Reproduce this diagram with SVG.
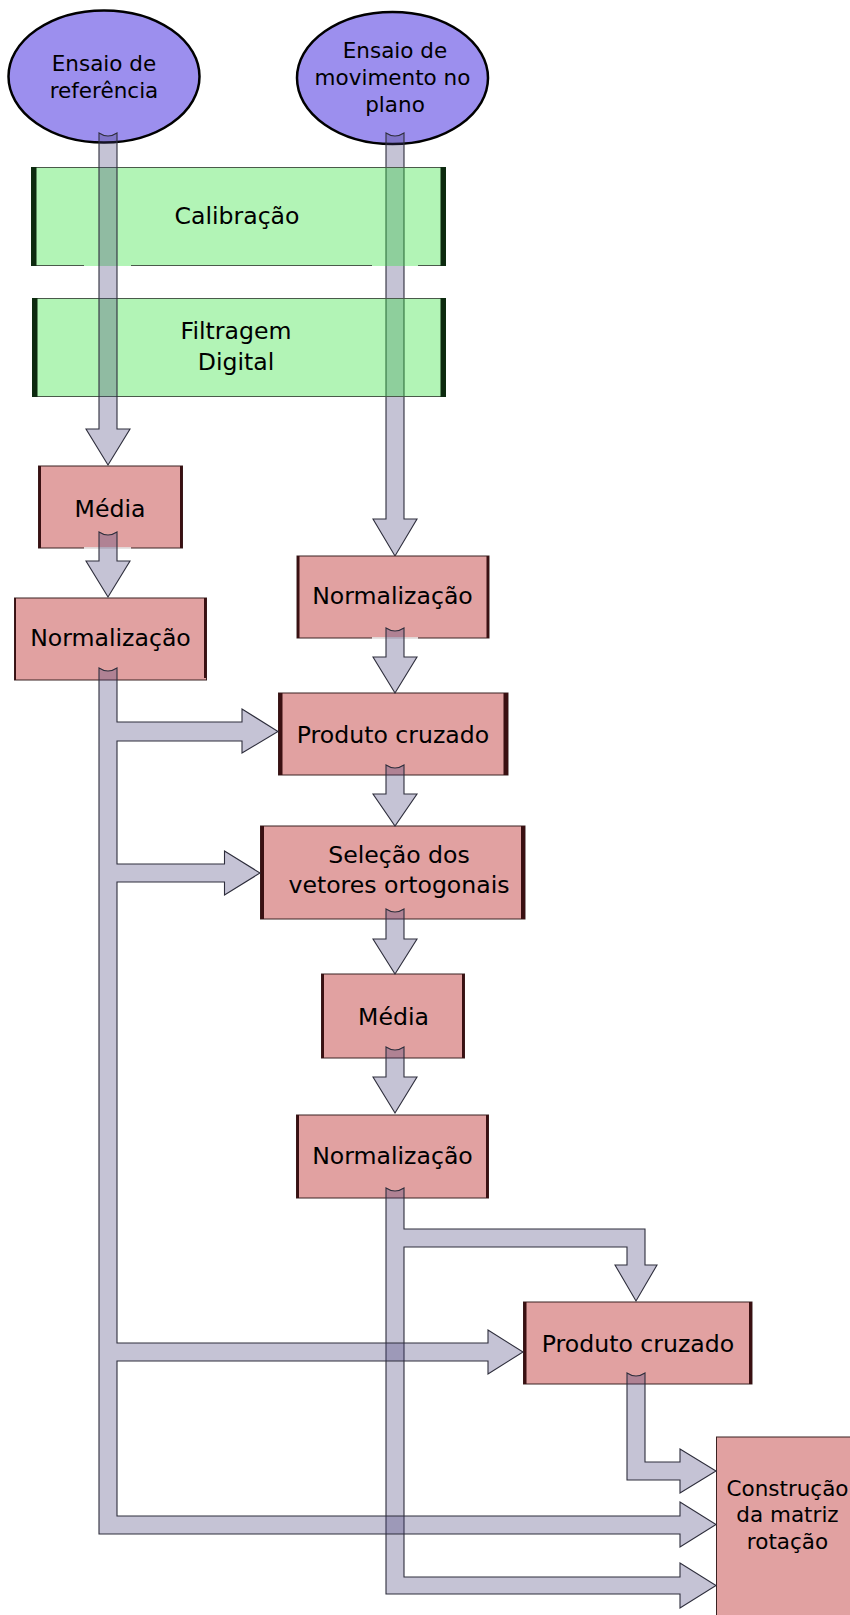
<svg xmlns="http://www.w3.org/2000/svg" width="850" height="1615" viewBox="0 0 850 1615">
<style>
.ell{fill:#9c8fee;stroke:#000;stroke-width:2.5}
.grn{fill:rgb(52,226,63);fill-opacity:0.38;stroke:none}
.gl{stroke:#4a5a4a;stroke-width:1;fill:none}
.gedge{fill:#0d2a0f}
.box{fill:#e1a1a1;stroke:#3a2222;stroke-width:1}
.bedge{fill:#3a1012}
.gap{stroke:#fff;stroke-width:1.6}
.arr{fill:rgb(68,61,120);fill-opacity:0.31;stroke:#2e2e3c;stroke-width:1.1;stroke-linejoin:miter}
text{font-family:"DejaVu Sans","Liberation Sans",sans-serif;fill:#000;text-anchor:middle}
.t{font-size:23.6px}
.s{font-size:21.5px}
</style>
<rect width="850" height="1615" fill="#fff"/>
<g id="ensaio-referencia">
<ellipse class="ell" cx="104" cy="76.5" rx="95.5" ry="66"/>
<text class="s" x="104" y="70.5">Ensaio de</text>
<text class="s" x="104" y="97.5">referência</text>
</g>
<g id="ensaio-movimento">
<ellipse class="ell" cx="392.5" cy="78" rx="95.5" ry="66"/>
<text class="s" x="395" y="58">Ensaio de</text>
<text class="s" x="392.5" y="84.8">movimento no</text>
<text class="s" x="395" y="111.5">plano</text>
</g>
<g id="connector-movimento">
<path class="arr" d="M386,133 Q395,139 404,133 L404,519 L417,519 L395,556 L373,519 L386,519 Z"/>
</g>
<g id="calibracao">
<rect class="grn" x="31" y="167" width="415" height="99"/>
<path class="gl" d="M31,167.5 H446 M31,265.5 H84 M131,265.5 H372 M418,265.5 H446"/>
<rect class="gedge" x="31" y="167" width="5.5" height="99"/>
<rect class="gedge" x="440.5" y="167" width="5.5" height="99"/>
<text class="t" x="237" y="223.5">Calibração</text>
</g>
<g id="filtragem">
<rect class="grn" x="32" y="298" width="414" height="99"/>
<path class="gl" d="M32,298.5 H446 M32,396.5 H446"/>
<rect class="gedge" x="32" y="298" width="5.5" height="99"/>
<rect class="gedge" x="440.5" y="298" width="5.5" height="99"/>
<text class="t" x="236" y="339">Filtragem</text>
<text class="t" x="236" y="369.5">Digital</text>
</g>
<g id="media-1">
<rect class="box" x="38.5" y="466" width="144" height="82"/>
<rect class="bedge" x="38.5" y="466" width="2.5" height="82"/>
<rect class="bedge" x="180" y="466" width="2.5" height="82"/>
<line class="gap" x1="84" y1="548" x2="131" y2="548"/>
<text class="t" x="110" y="517">Média</text>
</g>
<g id="normalizacao-1">
<rect class="box" x="14.5" y="598" width="192" height="82"/>
<rect class="bedge" x="14.5" y="598" width="1.5" height="82"/>
<rect class="bedge" x="204" y="598" width="2.5" height="80"/>
<text class="t" x="110.5" y="646">Normalização</text>
</g>
<g id="normalizacao-2">
<rect class="box" x="297" y="556" width="192" height="82"/>
<rect class="bedge" x="297" y="556" width="2.5" height="82"/>
<rect class="bedge" x="486.5" y="556" width="2.5" height="82"/>
<line class="gap" x1="372" y1="638" x2="418" y2="638"/>
<text class="t" x="392.5" y="604">Normalização</text>
</g>
<g id="produto-cruzado-1">
<rect class="box" x="278.5" y="693" width="229.5" height="82"/>
<rect class="bedge" x="278.5" y="693" width="4" height="82"/>
<rect class="bedge" x="503.5" y="693" width="4.5" height="82"/>
<text class="t" x="393" y="743">Produto cruzado</text>
</g>
<g id="selecao">
<rect class="box" x="260.5" y="826" width="264.5" height="93"/>
<rect class="bedge" x="260.5" y="826" width="3.5" height="93"/>
<rect class="bedge" x="521" y="826" width="4" height="93"/>
<text class="t" x="399" y="863">Seleção dos</text>
<text class="t" x="399" y="893">vetores ortogonais</text>
</g>
<g id="media-2">
<rect class="box" x="321.5" y="974" width="143" height="84"/>
<rect class="bedge" x="321.5" y="974" width="2.5" height="84"/>
<rect class="bedge" x="462" y="974" width="2.5" height="84"/>
<text class="t" x="393.5" y="1025">Média</text>
</g>
<g id="normalizacao-3">
<rect class="box" x="296.5" y="1115" width="192" height="83"/>
<rect class="bedge" x="296.5" y="1115" width="2.5" height="83"/>
<rect class="bedge" x="486" y="1115" width="2.5" height="83"/>
<text class="t" x="392.5" y="1164">Normalização</text>
</g>
<g id="produto-cruzado-2">
<rect class="box" x="523.5" y="1302" width="228.5" height="82"/>
<rect class="bedge" x="523.5" y="1302" width="3" height="82"/>
<rect class="bedge" x="749" y="1302" width="3" height="82"/>
<text class="t" x="638" y="1352">Produto cruzado</text>
</g>
<g id="construcao">
<rect class="box" x="716.5" y="1437" width="140" height="190" stroke-width="2"/>
<text class="s" x="787.5" y="1496">Construção</text>
<text class="s" x="787.5" y="1522">da matriz</text>
<text class="s" x="787.5" y="1549">rotação</text>
</g>
<g id="connectors">
<path class="arr" d="M99,133 Q108,139 117,133 L117,429 L130,429 L108,465 L86,429 L99,429 Z"/>
<path class="arr" d="M99,532 Q108,538 117,532 L117,561 L130,561 L108,597 L86,561 L99,561 Z"/>
<path class="arr" d="M386,628 Q395,634 404,628 L404,657 L417,657 L395,693 L373,657 L386,657 Z"/>
<path class="arr" d="M386,765 Q395,771 404,765 L404,794 L417,794 L395,826 L373,794 L386,794 Z"/>
<path class="arr" d="M386,909 Q395,915 404,909 L404,939 L417,939 L395,974 L373,939 L386,939 Z"/>
<path class="arr" d="M386,1047 Q395,1053 404,1047 L404,1077 L417,1077 L395,1113 L373,1077 L386,1077 Z"/>
<path class="arr" d="M386,1188 Q395,1194 404,1188 L404,1229 L645,1229 L645,1265 L657,1265 L636,1301 L615,1265 L627,1265 L627,1247 L404,1247 L404,1577 L680,1577 L680,1563 L716,1585.5 L680,1608 L680,1594 L386,1594 Z"/>
<path class="arr" d="M99,668 Q108,674 117,668 L117,722 L242,722 L242,709 L278,731.5 L242,753 L242,741 L117,741 L117,864 L224.5,864 L224.5,851 L260,873 L224.5,895 L224.5,882 L117,882 L117,1343 L488,1343 L488,1330 L523,1352 L488,1374 L488,1361 L117,1361 L117,1516 L680,1516 L680,1502 L716,1524.5 L680,1547 L680,1534 L99,1534 Z"/>
<path class="arr" d="M627,1373 Q636,1379 645,1373 L645,1462 L680,1462 L680,1449 L716,1471 L680,1493 L680,1480 L627,1480 Z"/>
</g>
</svg>
